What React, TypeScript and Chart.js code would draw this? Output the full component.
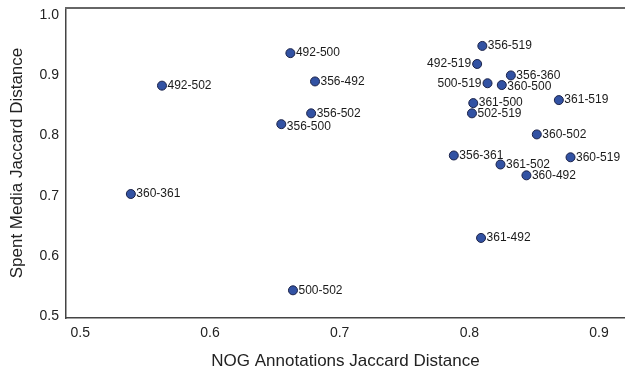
import React, { useEffect, useRef } from "react";
import { Chart, registerables } from "chart.js";

Chart.register(...registerables);

const pairLabels = [
  "492-502", "492-500", "356-492", "356-502", "356-500", "360-361", "500-502",
  "356-519", "492-519", "356-360", "500-519", "360-500", "361-500", "502-519",
  "361-519", "360-502", "356-361", "361-502", "360-519", "360-492", "361-492",
];
const nogDistance = [
  0.563, 0.662, 0.681, 0.678, 0.655, 0.539, 0.664,
  0.810, 0.806, 0.832, 0.814, 0.825, 0.803, 0.802,
  0.869, 0.852, 0.788, 0.824, 0.878, 0.844, 0.809,
];
const mediaDistance = [
  0.883, 0.937, 0.890, 0.837, 0.819, 0.703, 0.543,
  0.949, 0.919, 0.900, 0.887, 0.884, 0.854, 0.837,
  0.859, 0.802, 0.767, 0.752, 0.764, 0.734, 0.630,
];
const xTickValues = [0.5, 0.6, 0.7, 0.8, 0.9];
const yTickValues = [0.5, 0.6, 0.7, 0.8, 0.9, 1.0];
const xTitle = "NOG Annotations Jaccard Distance";
const yTitle = "Spent Media Jaccard Distance";

const leftSideLabels = ["492-519", "500-519"];
const labelNudge: Record<string, number> = { "356-500": 3, "360-500": 2 };

const FONT = '"Liberation Sans", Arial, Helvetica, sans-serif';

const pointLabelPlugin = {
  id: "pointLabels",
  afterDatasetsDraw(chart: any) {
    const ctx = chart.ctx;
    const meta = chart.getDatasetMeta(0);
    ctx.save();
    ctx.font = `12px ${FONT}`;
    ctx.fillStyle = "#1a1a1a";
    ctx.textBaseline = "middle";
    meta.data.forEach((el: any, i: number) => {
      const name = pairLabels[i];
      const left = leftSideLabels.includes(name);
      ctx.textAlign = left ? "right" : "left";
      ctx.fillText(name, el.x + (left ? -6 : 5.5), el.y + (labelNudge[name] || 0));
    });
    ctx.restore();
  },
};

const topBorderPlugin = {
  id: "topBorder",
  afterDraw(chart: any) {
    const { ctx, chartArea } = chart;
    ctx.save();
    ctx.strokeStyle = "#666";
    ctx.lineWidth = 2;
    ctx.beginPath();
    ctx.moveTo(chartArea.left - 1, chartArea.top);
    ctx.lineTo(chartArea.right, chartArea.top);
    ctx.stroke();
    ctx.restore();
  },
};

// stretch the plot area to the right edge of the canvas
const fullWidthPlugin = {
  id: "fullWidth",
  afterLayout(chart: any) {
    const x = chart.scales.x;
    const right = chart.width;
    x.right = right;
    x.width = right - x.left;
    x.configure();
    chart.chartArea.right = right;
    chart.chartArea.width = right - chart.chartArea.left;
  },
};

const resetPadding = (s: any) => {
  s.paddingTop = 0;
  s.paddingBottom = 0;
  s.paddingLeft = 0;
  s.paddingRight = 0;
};

export default function App() {
  const ref = useRef<HTMLCanvasElement | null>(null);
  useEffect(() => {
    if (!ref.current) return;
    const chart = new Chart(ref.current, {
      type: "scatter",
      data: {
        datasets: [
          {
            data: nogDistance.map((x, i) => ({ x, y: mediaDistance[i] })),
            backgroundColor: "#3252a3",
            borderColor: "#1b2248",
            borderWidth: 1,
            pointRadius: 4.5,
          },
        ],
      },
      options: {
        animation: false,
        responsive: false,
        devicePixelRatio: 1,
        events: [],
        layout: { padding: { top: 8, right: 0, left: 0, bottom: 0 } },
        plugins: { legend: { display: false }, tooltip: { enabled: false } },
        scales: {
          x: {
            type: "linear",
            min: 0.489,
            max: 0.92,
            grid: { display: false, drawTicks: false },
            border: { display: true, color: "#444", width: 1.5 },
            ticks: {
              color: "#222",
              font: { family: FONT, size: 14 },
              padding: 7,
              callback: (v: any) => Number(v).toFixed(1),
            },
            afterBuildTicks: (s: any) => {
              s.ticks = xTickValues.map((v) => ({ value: v }));
            },
            afterFit: (s: any) => {
              s.height = 54;
              resetPadding(s);
            },
            title: {
              display: true,
              text: xTitle,
              color: "#222",
              font: { family: FONT, size: 17 },
              padding: { top: 0, bottom: 0.5 },
            },
          },
          y: {
            type: "linear",
            min: 0.497,
            max: 1.012,
            grid: { display: false, drawTicks: false },
            border: { display: true, color: "#444", width: 1.5 },
            ticks: {
              color: "#222",
              font: { family: FONT, size: 14 },
              padding: 7,
              callback: (v: any) => Number(v).toFixed(1),
            },
            afterBuildTicks: (s: any) => {
              s.ticks = yTickValues.map((v) => ({ value: v }));
            },
            afterFit: (s: any) => {
              s.width = 66;
              resetPadding(s);
            },
            title: {
              display: true,
              text: yTitle,
              color: "#222",
              font: { family: FONT, size: 17 },
              padding: { top: 7, bottom: 0 },
            },
          },
        },
      },
      plugins: [fullWidthPlugin, pointLabelPlugin, topBorderPlugin],
    });
    return () => chart.destroy();
  }, []);
  return (
    <div style={{ position: "absolute", left: 0, top: 0, width: 625, height: 372, background: "#fff" }}>
      <canvas ref={ref} width={625} height={372} />
    </div>
  );
}
